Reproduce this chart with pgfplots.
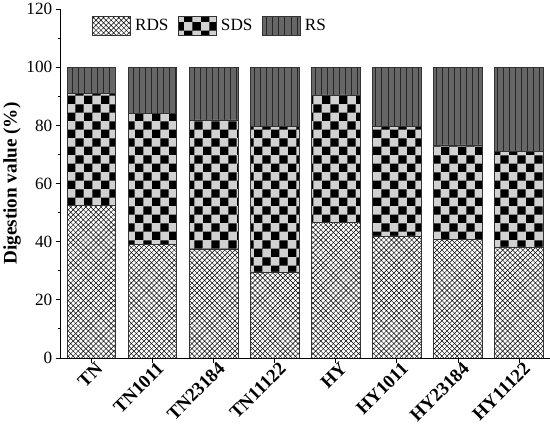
\documentclass[border=0pt]{standalone}
\usepackage{pgfplots}
\pgfplotsset{compat=1.18}
\usepackage{pgfplotstable}
\usepackage{fontspec}
\setmainfont{Liberation Serif}
\usetikzlibrary{patterns,calc}

% fill patterns of the three fractions
\pgfdeclarepatternformonly{xhatch}{\pgfqpoint{-1pt}{-1pt}}{\pgfqpoint{6pt}{6pt}}{\pgfqpoint{5pt}{5pt}}{%
  \pgfsetlinewidth{0.45pt}%
  \pgfpathmoveto{\pgfqpoint{-0.1pt}{-0.1pt}}\pgfpathlineto{\pgfqpoint{5.1pt}{5.1pt}}%
  \pgfpathmoveto{\pgfqpoint{-0.1pt}{5.1pt}}\pgfpathlineto{\pgfqpoint{5.1pt}{-0.1pt}}%
  \pgfusepath{stroke}}
\pgfdeclarepatternformonly{checker}{\pgfpointorigin}{\pgfqpoint{16.6pt}{16.6pt}}{\pgfqpoint{16.6pt}{16.6pt}}{%
  \pgfpathrectangle{\pgfpointorigin}{\pgfqpoint{8.3pt}{8.3pt}}%
  \pgfpathrectangle{\pgfqpoint{8.3pt}{8.3pt}}{\pgfqpoint{8.3pt}{8.3pt}}%
  \pgfusepath{fill}}
\pgfdeclarepatternformonly{vlines}{\pgfqpoint{-1pt}{0pt}}{\pgfqpoint{1pt}{6pt}}{\pgfqpoint{6pt}{6pt}}{%
  \pgfsetlinewidth{0.8pt}%
  \pgfpathmoveto{\pgfqpoint{0pt}{0pt}}\pgfpathlineto{\pgfqpoint{0pt}{6pt}}%
  \pgfusepath{stroke}}

\tikzset{
  rds/.style={fill=white, draw=black!80, line width=0.7pt, postaction={pattern=xhatch, pattern color=black}},
  sds/.style={fill=black!18, draw=black!80, line width=0.7pt, postaction={pattern=checker, pattern color=black}},
  rs/.style={fill=black!60, draw=black!80, line width=0.7pt, postaction={pattern=vlines, pattern color=black!85}},
}

\pgfplotstableread{
x RDS  SDS  RS
0 52.5 38.5 9.0
1 39.2 45.0 15.8
2 37.2 44.7 18.1
3 29.6 50.0 20.4
4 46.7 43.8 9.5
5 42.0 37.6 20.4
6 40.7 32.6 26.7
7 38.2 32.9 28.9
}\digdata

\begin{document}
\begin{tikzpicture}
\begin{axis}[
    width=482bp, height=344bp,
    scale only axis,
    ybar stacked,
    bar width=48bp,
    xmin=-0.5, xmax=7.5,
    ymin=0, ymax=120,
    axis x line*=bottom,
    axis y line*=left,
    axis line style={line width=0.9pt},
    tick style={black, line width=0.8pt},
    tick align=outside,
    major tick length=5bp,
    minor tick length=3bp,
    xtick={0,...,7},
    xticklabels={TN,TN1011,TN23184,TN11122,HY,HY1011,HY23184,HY11122},
    xticklabel style={rotate=45, anchor=north east, xshift=5bp,
        font=\bfseries\fontsize{18.5}{18.5}\selectfont, inner sep=1pt},
    ytick={0,20,...,120},
    minor y tick num=1,
    yticklabel style={font=\fontsize{17}{17}\selectfont},
    /pgf/number format/assume math mode=true,
    ylabel={Digestion value (\%)},
    ylabel style={font=\bfseries\fontsize{19}{19}\selectfont,
        at={($(rel axis cs:0,0.5)+(-48bp,0pt)$)}, anchor=center},
    legend columns=3,
    legend style={at={(rel axis cs:0.305,0.952)}, anchor=center, draw=none, fill=none,
        font=\fontsize{17}{17}\selectfont,
        /tikz/every odd column/.append style={column sep=2bp},
        /tikz/every even column/.append style={column sep=7bp}},
    legend image code/.code={\draw[#1] (0bp,-9.5bp) rectangle (38bp,9.5bp);},
]
\addplot[rds] table[x=x, y=RDS] {\digdata};
\addplot[sds] table[x=x, y=SDS] {\digdata};
\addplot[rs]  table[x=x, y=RS]  {\digdata};
\legend{RDS, SDS, RS}
\path (rel axis cs:0,0) ++(-61bp,-75bp) (rel axis cs:1,1) ++(7bp,10bp);
\end{axis}
\end{tikzpicture}
\end{document}
